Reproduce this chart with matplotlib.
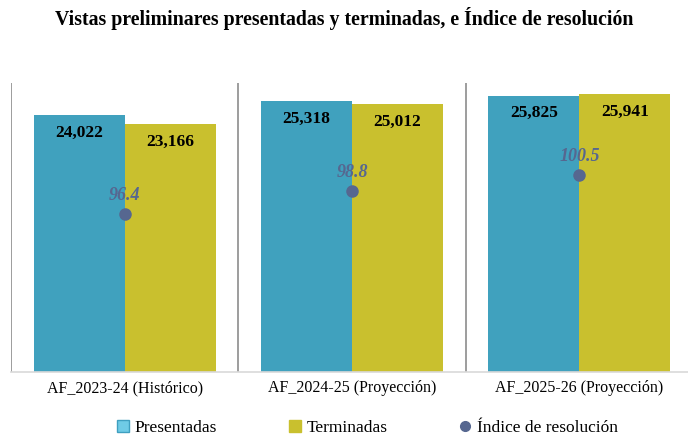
import matplotlib
matplotlib.use("Agg")
import matplotlib.pyplot as plt
from matplotlib.patches import Patch
from matplotlib.lines import Line2D

categories = ["AF_2023-24 (Histórico)", "AF_2024-25 (Proyección)", "AF_2025-26 (Proyección)"]
presentadas = [24022, 25318, 25825]
terminadas = [23166, 25012, 25941]
indice = [96.4, 98.8, 100.5]

title = "Vistas preliminares presentadas y terminadas, e Índice de resolución"
serif = ["Liberation Serif", "DejaVu Serif"]
c_pres = "#40a1be"
c_term = "#c9c02e"
c_dot = "#566790"

fig = plt.figure(figsize=(6.88, 4.37), dpi=100)
ax = fig.add_axes([11/688, 1 - 372/437, 682/688, 289/437])
ax.set_xlim(-0.5, 2.5)
ax.set_ylim(0, 27000)

x = list(range(len(categories)))
w = 0.4
b1 = ax.bar([i - w/2 for i in x], presentadas, w, color=c_pres, zorder=2)
b2 = ax.bar([i + w/2 for i in x], terminadas, w, color=c_term, zorder=2)

for bars, vals in ((b1, presentadas), (b2, terminadas)):
    for r, v in zip(bars, vals):
        ax.annotate(f"{v:,}", (r.get_x() + r.get_width()/2, v),
                    xytext=(0, -7), textcoords="offset points",
                    ha="center", va="top", fontsize=12.5, fontweight="bold",
                    family=serif, color="black", zorder=5)

for s in [-0.5, 0.5, 1.5, 2.5]:
    ax.axvline(s, color="#8c8c8c", lw=1.2, zorder=1)

for sp in ["top", "right", "left"]:
    ax.spines[sp].set_visible(False)
ax.spines["bottom"].set_color("#d9d9d9")
ax.spines["bottom"].set_linewidth(1.2)
ax.set_yticks([])
ax.set_xticks(x)
ax.set_xticklabels(categories, fontsize=11.5, family=serif)
ax.tick_params(axis="x", length=0, pad=6)

ax2 = ax.twinx()
ax2.set_ylim(80, 110)
ax2.set_yticks([])
for sp in ax2.spines.values():
    sp.set_visible(False)
ax2.plot(x, indice, "o", color=c_dot, ms=8, zorder=6)
for i, v in zip(x, indice):
    ax2.annotate(f"{v}", (i, v), xytext=(0, 7), textcoords="offset points",
                 ha="center", va="bottom", fontsize=13, fontweight="bold",
                 fontstyle="italic", family=serif, color=c_dot)

fig.text(0.5, 1 - 18/437, title, ha="center", va="center",
         fontsize=14.3, fontweight="bold", family=serif)

handles = [Patch(facecolor="#6fcbe6", edgecolor="#3f9fc0", label="Presentadas"),
           Patch(facecolor=c_term, edgecolor=c_term, label="Terminadas"),
           Line2D([], [], marker="o", ls="none", color=c_dot, ms=7, label="Índice de resolución")]
fig.legend(handles=handles, loc="center", bbox_to_anchor=(0.534, 1 - 428/437), ncol=3,
           frameon=False, prop={"family": serif, "size": 12.5},
           handlelength=0.7, handleheight=0.7, handletextpad=0.3, columnspacing=4.15)

fig.savefig("out.png", dpi=100)
